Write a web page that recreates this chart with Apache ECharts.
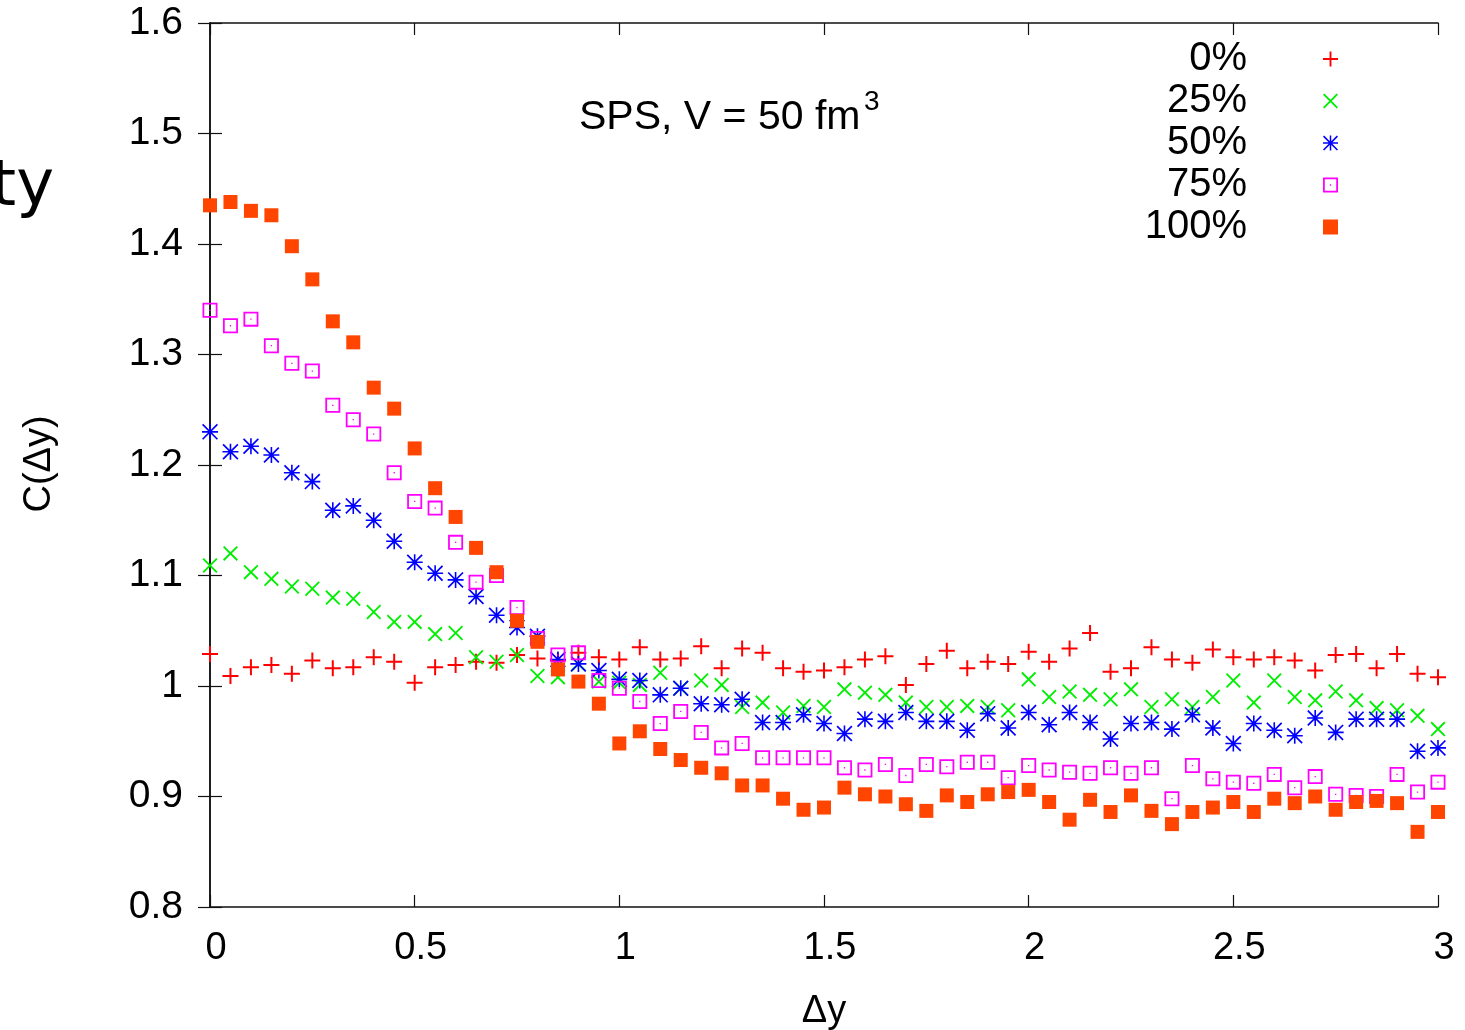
<!DOCTYPE html>
<html>
<head>
<meta charset="utf-8">
<script src="https://cdn.jsdelivr.net/npm/echarts@6/dist/echarts.min.js"></script>
<style>
html,body{margin:0;padding:0;background:#fff;}
#chart{width:1465px;height:1030px;}
</style>
</head>
<body>
<div id="chart"></div>
<script>
// ---- data ----
var xValues = [0,0.05,0.1,0.15,0.2,0.25,0.3,0.35,0.4,0.45,0.5,0.55,0.6,0.65,0.7,0.75,0.8,0.85,0.9,0.95,
  1,1.05,1.1,1.15,1.2,1.25,1.3,1.35,1.4,1.45,1.5,1.55,1.6,1.65,1.7,1.75,1.8,1.85,1.9,1.95,
  2,2.05,2.1,2.15,2.2,2.25,2.3,2.35,2.4,2.45,2.5,2.55,2.6,2.65,2.7,2.75,2.8,2.85,2.9,2.95,3];

var seriesNames = ['0%','25%','50%','75%','100%'];

var s0 = [1.029,1.009,1.017,1.019,1.011,1.023,1.016,1.017,1.026,1.022,1.003,1.017,1.019,1.022,1.021,1.028,1.025,1.023,1.030,1.026,
  1.024,1.035,1.024,1.025,1.036,1.016,1.034,1.030,1.016,1.013,1.014,1.017,1.024,1.027,1.001,1.020,1.032,1.016,1.022,1.020,
  1.031,1.022,1.034,1.048,1.013,1.016,1.035,1.024,1.021,1.033,1.026,1.024,1.026,1.023,1.014,1.028,1.029,1.016,1.029,1.011,1.008];

var s25 = [1.109,1.120,1.103,1.097,1.090,1.088,1.080,1.079,1.067,1.058,1.058,1.047,1.048,1.026,1.022,1.028,1.009,1.008,1.020,1.004,
  1.003,1.001,1.012,0.998,1.005,1.001,0.981,0.985,0.976,0.982,0.981,0.997,0.994,0.992,0.985,0.981,0.981,0.982,0.981,0.978,
  1.006,0.990,0.995,0.992,0.988,0.997,0.981,0.988,0.981,0.990,1.005,0.985,1.005,0.990,0.987,0.995,0.987,0.980,0.978,0.973,0.961];

var s50 = [1.230,1.212,1.217,1.209,1.193,1.185,1.159,1.163,1.150,1.131,1.112,1.102,1.096,1.081,1.064,1.053,1.045,1.024,1.020,1.014,
  1.006,1.005,0.992,0.998,0.984,0.983,0.988,0.967,0.967,0.974,0.966,0.957,0.970,0.968,0.976,0.968,0.968,0.960,0.975,0.962,
  0.976,0.965,0.976,0.967,0.952,0.966,0.967,0.961,0.974,0.962,0.948,0.966,0.960,0.955,0.971,0.958,0.970,0.970,0.970,0.941,0.944];

var s75 = [1.340,1.326,1.332,1.308,1.292,1.285,1.254,1.241,1.228,1.193,1.167,1.161,1.130,1.094,1.100,1.071,1.043,1.028,1.030,1.005,
  0.998,0.986,0.966,0.977,0.958,0.944,0.948,0.935,0.935,0.935,0.935,0.926,0.924,0.929,0.919,0.929,0.927,0.931,0.931,0.917,
  0.928,0.924,0.922,0.921,0.926,0.921,0.926,0.898,0.928,0.916,0.913,0.912,0.920,0.908,0.918,0.902,0.901,0.900,0.920,0.904,0.913];

var s100 = [1.435,1.438,1.430,1.426,1.398,1.368,1.330,1.311,1.270,1.251,1.215,1.179,1.153,1.125,1.103,1.059,1.040,1.015,1.004,0.984,
  0.948,0.959,0.943,0.933,0.926,0.921,0.910,0.910,0.898,0.888,0.890,0.908,0.902,0.900,0.893,0.887,0.901,0.895,0.902,0.904,
  0.906,0.895,0.879,0.897,0.886,0.901,0.887,0.875,0.886,0.890,0.895,0.886,0.898,0.894,0.900,0.888,0.895,0.896,0.894,0.868,0.886];

var xTicks = { min: 0, max: 3, interval: 0.5 };
var yTicks = { min: 0.8, max: 1.6, interval: 0.1 };

// ---- styles ----
var FONT = 'Liberation Sans';
var symPlus = 'path://M7,0H9V16H7Z M0,7H16V9H0Z';
var symCross = 'path://M0,1.4L1.4,0L16,14.6L14.6,16Z M14.6,0L16,1.4L1.4,16L0,14.6Z';
var symStar = 'path://M7.2,0H8.8V16H7.2Z M0,7.2H16V8.8H0Z M0,1.2L1.2,0L16,14.8L14.8,16Z M14.8,0L16,1.2L1.2,16L0,14.8Z M6.6,6.6H9.4V9.4H6.6Z';
var symBox = 'path://M0,0H16V16H0Z M1.9,1.9V14.1H14.1V1.9Z M7.3,7.3H8.7V8.7H7.3Z';
var symFill = 'path://M0,0H16V16H0Z';

var symbols = [symPlus, symCross, symStar, symBox, symFill];
var colors = ['#ff0000', '#00ee00', '#0000ff', '#ff00ff', '#ff4500'];
var sizes = [16, 15, 16, 15, 14];
var allData = [s0, s25, s50, s75, s100];

function pairs(ys) {
  return xValues.map(function (x, i) { return [x, ys[i]]; });
}

var series = allData.map(function (ys, k) {
  return {
    name: seriesNames[k],
    type: 'scatter',
    data: pairs(ys),
    symbol: symbols[k],
    symbolSize: sizes[k],
    clip: false,
    itemStyle: { color: colors[k], opacity: 1 },
    emphasis: { disabled: true },
    z: 2 + k
  };
});

var chart = echarts.init(document.getElementById('chart'), null, { renderer: 'canvas' });

var axisLine = { show: true, lineStyle: { color: '#111', width: 1.5 } };
var tick = { show: true, inside: true, length: 12, lineStyle: { color: '#111', width: 1.2 } };

chart.setOption({
  animation: false,
  backgroundColor: '#ffffff',
  grid: { left: 210, right: 27, top: 23, bottom: 123, containLabel: false },
  xAxis: [{
    type: 'value', min: xTicks.min, max: xTicks.max, interval: xTicks.interval,
    position: 'bottom',
    axisLine: axisLine, axisTick: tick, splitLine: { show: false },
    axisLabel: { fontFamily: FONT, fontSize: 38, color: '#000', margin: 23, padding: [0, 0, 0, 12],
      formatter: function (v) { return String(+v.toFixed(2)); } }
  }, {
    type: 'value', min: xTicks.min, max: xTicks.max, interval: xTicks.interval,
    position: 'top',
    axisLine: axisLine, axisTick: tick, splitLine: { show: false }, axisLabel: { show: false }
  }],
  yAxis: [{
    type: 'value', min: yTicks.min, max: yTicks.max, interval: yTicks.interval,
    position: 'left',
    axisLine: axisLine, axisTick: tick, splitLine: { show: false },
    axisLabel: { fontFamily: FONT, fontSize: 39, color: '#000', margin: 27,
      formatter: function (v) { return String(+v.toFixed(2)); } }
  }, {
    type: 'value', min: yTicks.min, max: yTicks.max, interval: yTicks.interval,
    position: 'right',
    axisLine: axisLine, axisTick: tick, splitLine: { show: false }, axisLabel: { show: false }
  }],
  legend: {
    orient: 'vertical', right: 127, top: 38, padding: 0, itemGap: 0,
    align: 'right', itemWidth: 15, itemHeight: 15,
    selectedMode: false,
    textStyle: { fontFamily: FONT, fontSize: 40, color: '#000', lineHeight: 42, padding: [0, 71, 0, 0] },
    data: seriesNames.map(function (n, k) { return { name: n, icon: symbols[k], itemStyle: { color: colors[k] } }; })
  },
  graphic: [
    { type: 'text', x: 579, y: 138, silent: true,
      style: { text: 'SPS, V = 50 fm', fontFamily: FONT, fontSize: 41, fill: '#000', textAlign: 'left', textVerticalAlign: 'bottom' } },
    { type: 'text', x: 864, y: 88, silent: true,
      style: { text: '3', fontFamily: FONT, fontSize: 28, fill: '#000', textAlign: 'left', textVerticalAlign: 'top' } },
    { type: 'text', x: 40, y: 464, rotation: Math.PI / 2, silent: true,
      style: { text: 'C(Δy)', fontFamily: FONT, fontSize: 38, fill: '#000', textAlign: 'center', textVerticalAlign: 'middle' } },
    { type: 'text', x: 824, y: 1012, silent: true,
      style: { text: 'Δy', fontFamily: FONT, fontSize: 38, fill: '#000', textAlign: 'center', textVerticalAlign: 'middle' } },
    { type: 'text', x: 54, y: 188, silent: true,
      style: { text: 'ty', fontFamily: 'DejaVu Sans', fontSize: 64, fill: '#000', textAlign: 'right', textVerticalAlign: 'middle' } }
  ],
  series: series
});
</script>
</body>
</html>
